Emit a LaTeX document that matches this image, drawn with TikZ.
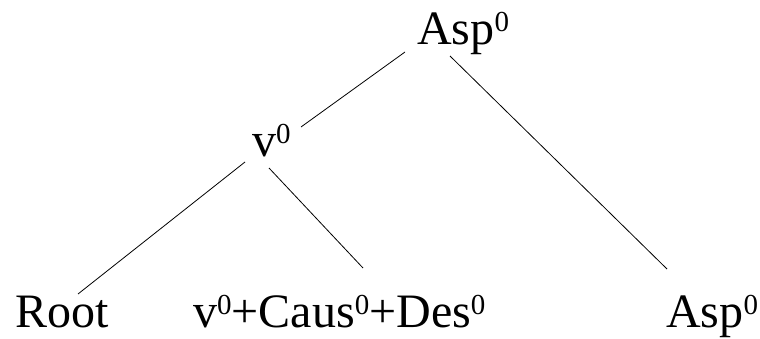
\documentclass[tikz,border=0pt]{standalone}
\usepackage{fontspec}
\setmainfont{Liberation Serif}
\newcommand{\zsup}{\raisebox{13pt}{\fontsize{29}{29}\selectfont 0}}
\begin{document}
\begin{tikzpicture}[x=1pt,y=-1pt,
  lbl/.style={anchor=base west,inner sep=0pt,font=\fontsize{48}{50}\selectfont},
  branch/.style={line width=0.8pt,black}]
\useasboundingbox (0,0) rectangle (760,339);
\node[lbl] (aspT) at (417,45) {Asp\zsup};
\node[lbl] (v) at (252,157) {v\zsup};
\node[lbl] (root) at (15,327) {Root};
\node[lbl] (mid) at (193,327) {v\zsup+Caus\zsup+Des\zsup};
\node[lbl] (aspB) at (666,327) {Asp\zsup};
\draw[branch] ([shift={(-12,7)}]aspT.base west) -- ([shift={(49,-30)}]v.base west);
\draw[branch] ([shift={(33,11)}]aspT.base west) -- ([shift={(1,-58)}]aspB.base west);
\draw[branch] ([shift={(-7,5)}]v.base west) -- ([shift={(63,-33)}]root.base west);
\draw[branch] ([shift={(17,11)}]v.base west) -- ([shift={(170,-59)}]mid.base west);
\end{tikzpicture}
\end{document}
